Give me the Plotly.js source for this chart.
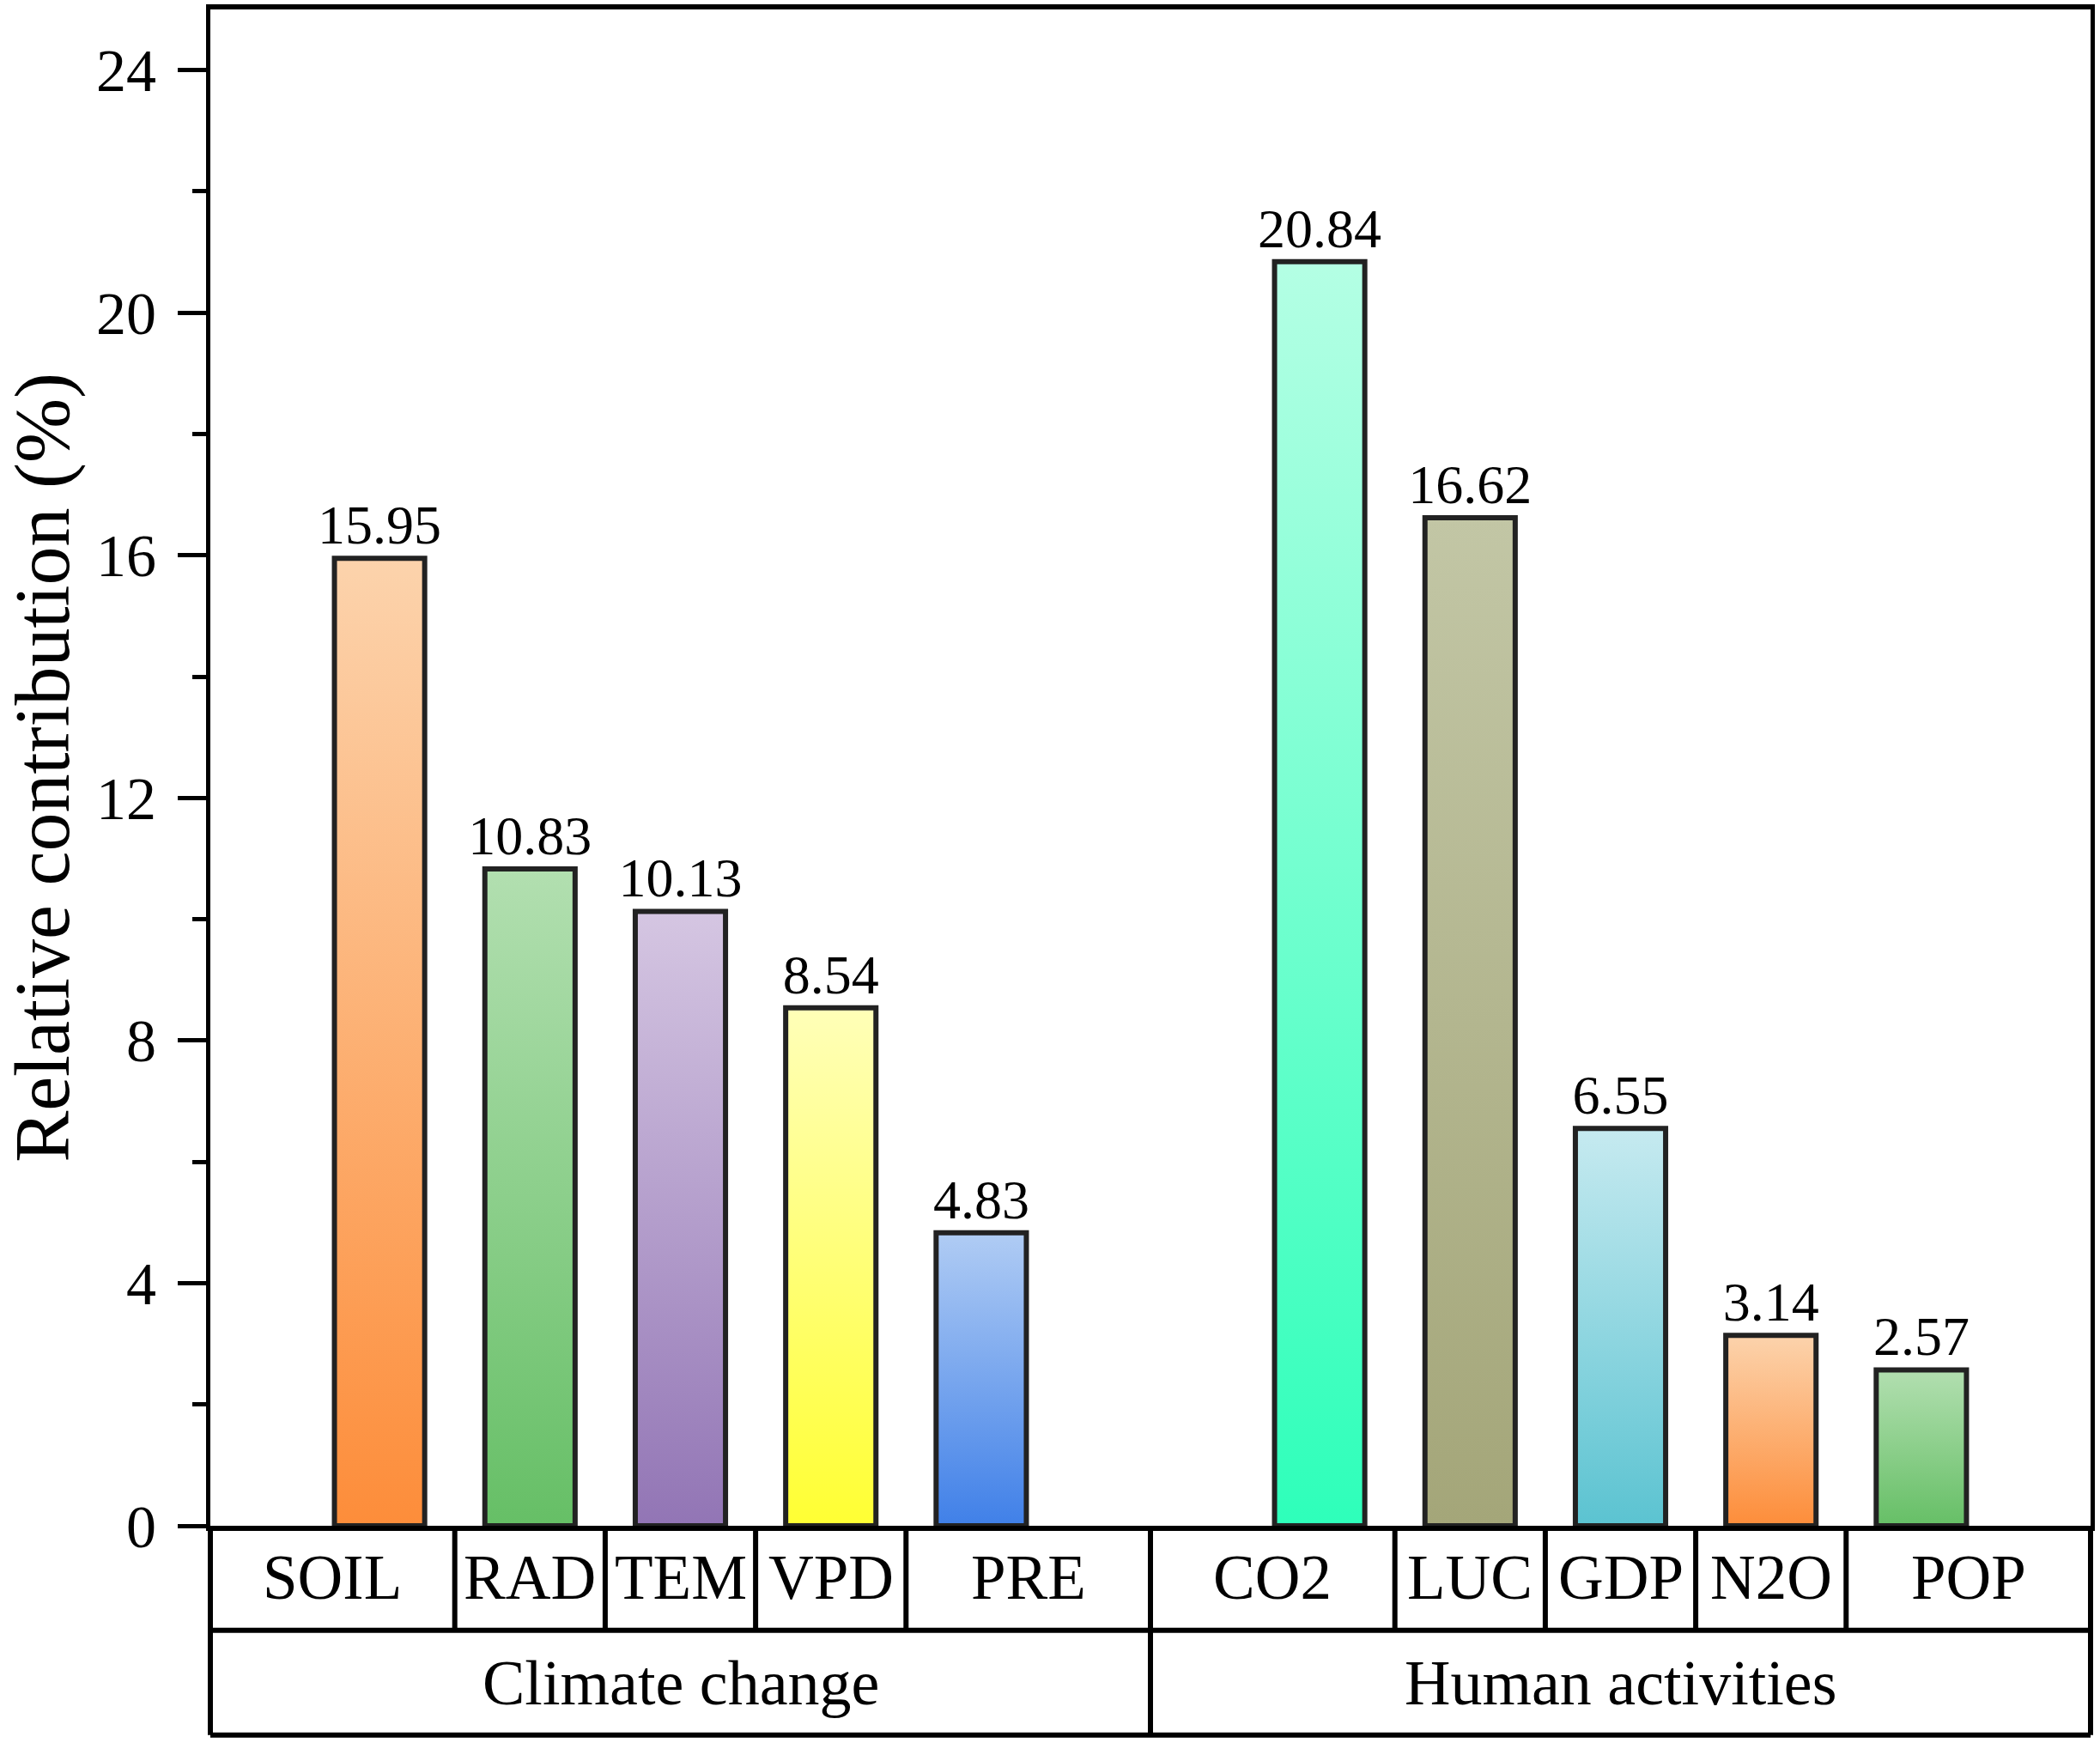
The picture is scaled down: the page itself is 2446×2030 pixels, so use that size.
<!DOCTYPE html>
<html>
<head>
<meta charset="utf-8">
<script src="https://cdn.plot.ly/plotly-3.0.1.min.js"></script>
<style>
  html, body { margin: 0; padding: 0; background: #fff; }
  #chart { width: 2446px; height: 2030px; }
</style>
</head>
<body>
<div id="chart"></div>
<script>
var factors = ['SOIL', 'RAD', 'TEM', 'VPD', 'PRE', 'CO2', 'LUC', 'GDP', 'N2O', 'POP'];
var contribution = [15.95, 10.83, 10.13, 8.54, 4.83, 20.84, 16.62, 6.55, 3.14, 2.57];
var groupOf = [0, 0, 0, 0, 0, 1, 1, 1, 1, 1];
var groupNames = ['Climate change', 'Human activities'];
var topColors = ['#fcd3ac', '#b2dfb0', '#d5c6e2', '#ffffb8', '#b0ccf4',
                 '#b4ffe4', '#c2c6a5', '#c6eaf0', '#fcd3ac', '#b2dfb0'];
var bottomColors = ['#fd8d3a', '#66bf66', '#9275b5', '#ffff33', '#4080e8',
                    '#2effba', '#a4a679', '#5bc3d1', '#fd8d3a', '#66bf66'];

var FONT = 'Liberation Serif, Times New Roman, serif';
var groupGap = 1.25;   // extra space between the two groups
var edge = 1.125;      // empty space at both ends of the x axis

// bar positions: index plus a shift for the second group
var xpos = factors.map(function (f, i) { return i + groupOf[i] * groupGap; });
var xmin = xpos[0] - edge, xmax = xpos[xpos.length - 1] + edge;
function px(v) { return (v - xmin) / (xmax - xmin); }

var trace = {
    x: xpos,
    y: contribution,
    type: 'bar',
    width: 0.6,
    marker: { color: topColors, line: { color: '#222', width: 6 } },
    text: contribution.map(function (v) { return v.toFixed(2); }),
    textposition: 'outside',
    constraintext: 'none',
    cliponaxis: false,
    textfont: { family: FONT, size: 64, color: '#000' },
    hoverinfo: 'none'
};

// table under the axis: one row of factor names, one row of group names
var row1 = -0.069, row2 = -0.138;
var shapes = [];
var annotations = [];
var line = { color: '#000', width: 6 };

var bounds = [xmin];
for (var i = 1; i < xpos.length; i++) bounds.push((xpos[i - 1] + xpos[i]) / 2);
bounds.push(xmax);

for (var i = 0; i < factors.length; i++) {
    annotations.push({
        x: px((bounds[i] + bounds[i + 1]) / 2), y: (0 + row1) / 2,
        xref: 'paper', yref: 'paper', text: factors[i], showarrow: false,
        xanchor: 'center', yanchor: 'middle',
        font: { family: FONT, size: 73, color: '#000' }
    });
    if (i > 0) {
        var between = groupOf[i] !== groupOf[i - 1];
        shapes.push({
            type: 'line', xref: 'paper', yref: 'paper',
            x0: px(bounds[i]), x1: px(bounds[i]), y0: 0, y1: between ? row2 : row1, line: line
        });
    }
}

for (var g = 0; g < groupNames.length; g++) {
    var idx = [];
    groupOf.forEach(function (v, i) { if (v === g) idx.push(i); });
    var left = bounds[idx[0]], right = bounds[idx[idx.length - 1] + 1];
    annotations.push({
        x: px((left + right) / 2), y: (row1 + row2) / 2,
        xref: 'paper', yref: 'paper', text: groupNames[g], showarrow: false,
        xanchor: 'center', yanchor: 'middle',
        font: { family: FONT, size: 74, color: '#000' }
    });
}

shapes.push({ type: 'line', xref: 'paper', yref: 'paper', x0: 0, x1: 0, y0: 0, y1: row2, line: line });
shapes.push({ type: 'line', xref: 'paper', yref: 'paper', x0: 1, x1: 1, y0: 0, y1: row2, line: line });
shapes.push({ type: 'line', xref: 'paper', yref: 'paper', x0: 0, x1: 1, y0: row1, y1: row1, line: line });
shapes.push({ type: 'line', xref: 'paper', yref: 'paper', x0: 0, x1: 1, y0: row2, y1: row2, line: line });

var layout = {
    width: 2446,
    height: 2030,
    margin: { l: 245, r: 11, t: 11, b: 253, pad: 0 },
    paper_bgcolor: '#fff',
    plot_bgcolor: '#fff',
    showlegend: false,
    font: { family: FONT, color: '#000' },
    xaxis: {
        range: [xmin, xmax],
        showgrid: false,
        zeroline: false,
        showline: true,
        linecolor: '#000',
        linewidth: 6,
        mirror: true,
        ticks: '',
        showticklabels: false,
        fixedrange: true
    },
    yaxis: {
        range: [0, 25],
        dtick: 4,
        tick0: 0,
        showgrid: false,
        zeroline: false,
        showline: true,
        linecolor: '#000',
        linewidth: 5,
        mirror: true,
        ticks: 'outside',
        ticklen: 33,
        tickwidth: 5,
        tickcolor: '#000',
        ticklabelstandoff: 11,
        minor: { dtick: 2, ticks: 'outside', ticklen: 16, tickwidth: 5, tickcolor: '#000' },
        tickfont: { family: FONT, size: 70, color: '#000' },
        title: { text: 'Relative contribution (%)', font: { family: FONT, size: 90, color: '#000' }, standoff: 34 },
        fixedrange: true
    },
    shapes: shapes,
    annotations: annotations
};

Plotly.newPlot('chart', [trace], layout, { displayModeBar: false, staticPlot: true }).then(function (gd) {
    // vertical gradient per bar: light at the top, full colour at the bottom
    var svgNS = 'http://www.w3.org/2000/svg';
    var defs = gd.querySelector('.main-svg defs');
    var paths = gd.querySelectorAll('.trace.bars .point path');
    paths.forEach(function (p, i) {
        var grad = document.createElementNS(svgNS, 'linearGradient');
        grad.setAttribute('id', 'barGrad' + i);
        grad.setAttribute('x1', '0'); grad.setAttribute('y1', '0');
        grad.setAttribute('x2', '0'); grad.setAttribute('y2', '1');
        [[0, topColors[i]], [1, bottomColors[i]]].forEach(function (s) {
            var stop = document.createElementNS(svgNS, 'stop');
            stop.setAttribute('offset', s[0]);
            stop.setAttribute('stop-color', s[1]);
            grad.appendChild(stop);
        });
        defs.appendChild(grad);
        p.style.fill = 'url(#barGrad' + i + ')';
    });
});
</script>
</body>
</html>
